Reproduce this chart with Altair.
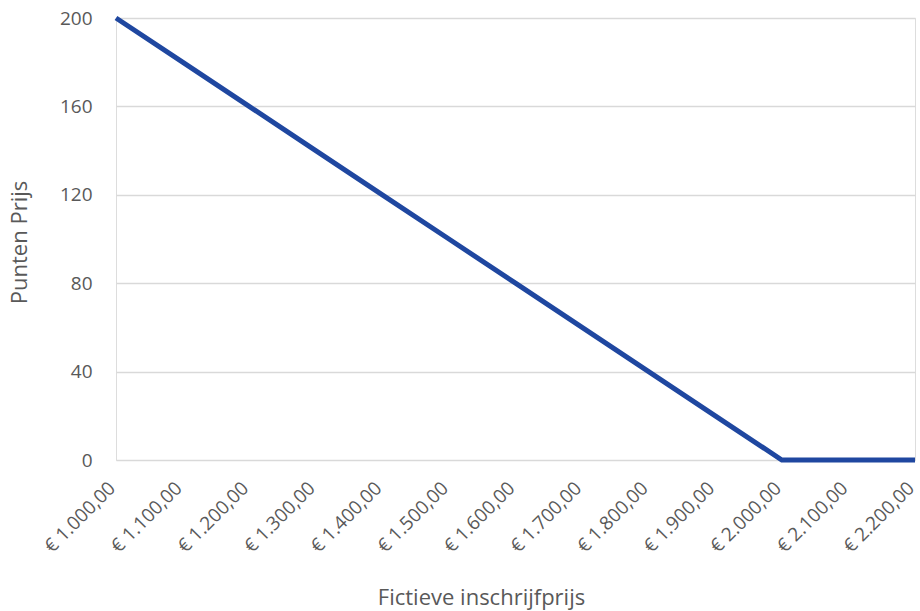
import altair as alt
import pandas as pd

prices = [1000, 1100, 1200, 1300, 1400, 1500, 1600, 1700, 1800, 1900, 2000, 2100, 2200]
labels = ["€ 1.000,00", "€ 1.100,00", "€ 1.200,00", "€ 1.300,00", "€ 1.400,00", "€ 1.500,00",
          "€ 1.600,00", "€ 1.700,00", "€ 1.800,00", "€ 1.900,00", "€ 2.000,00", "€ 2.100,00",
          "€ 2.200,00"]
points = [200, 180, 160, 140, 120, 100, 80, 60, 40, 20, 0, 0, 0]
y_ticks = [0, 40, 80, 120, 160, 200]

df = pd.DataFrame({"label": labels, "price": prices, "points": points})

FONT = "Open Sans"
TXT = "#595959"

chart = alt.Chart(df).mark_line(color="#1f47a0", strokeWidth=5, strokeCap="butt").encode(
    x=alt.X("label:O", sort=labels,
            scale=alt.Scale(paddingOuter=0, padding=0),
            axis=alt.Axis(title="Fictieve inschrijfprijs", labelAngle=-45, labelFontSize=19,
                          labelColor=TXT, labelFont=FONT, ticks=False, domain=False,
                          labelPadding=29, labelAlign="right", labelBaseline="alphabetic",
                          labelOverlap=False,
                          titleFont=FONT, titleFontSize=22,
                          titleColor=TXT, titleFontWeight="normal",
                          titleX=365, titleY=137, titleBaseline="middle", titleAlign="center")),
    y=alt.Y("points:Q", scale=alt.Scale(domain=[0, 200], nice=False),
            axis=alt.Axis(title="Punten Prijs", values=y_ticks, labelFontSize=19,
                          labelColor=TXT, labelFont=FONT, ticks=False, domain=False,
                          labelPadding=24, gridColor="#d9d9d9", gridWidth=1.3,
                          titleFont=FONT, titleFontSize=22, titleColor=TXT,
                          titleFontWeight="normal", titleX=-97, titleY=224,
                          titleBaseline="middle", titleAlign="center", titleAngle=-90)),
).properties(
    width=799, height=442,
    autosize=alt.AutoSizeParams(type="none"),
    padding={"left": 116, "top": 18, "right": 5, "bottom": 151},
).configure_view(stroke=None).configure(background="white")

chart.save("out.html", embed_options={"renderer": "svg", "actions": False})
